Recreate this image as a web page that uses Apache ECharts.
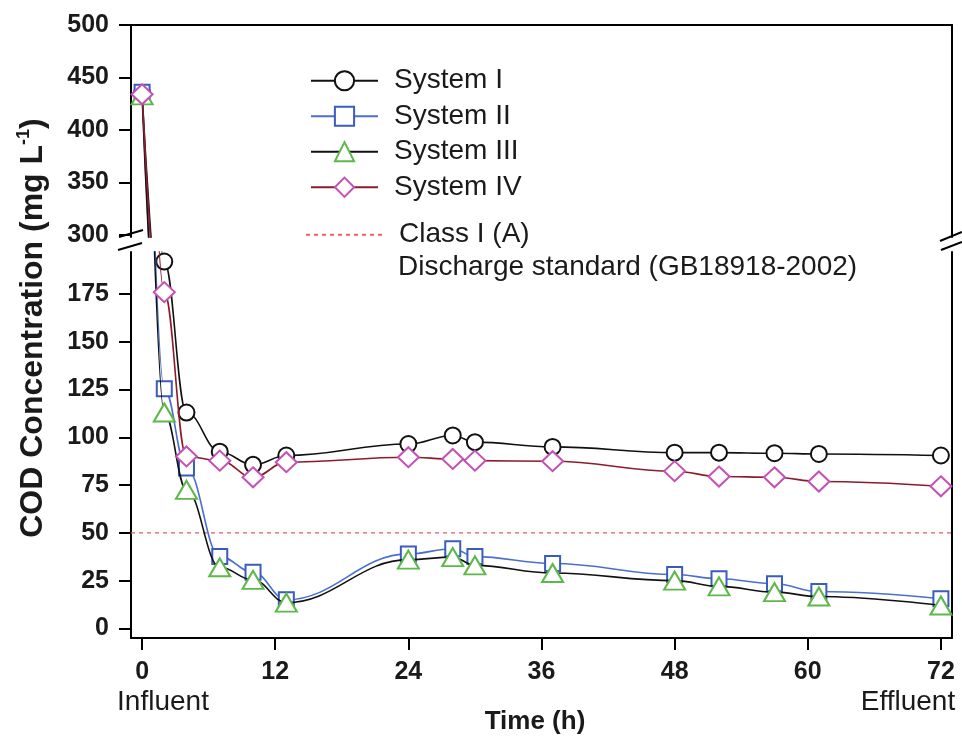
<!DOCTYPE html>
<html><head><meta charset="utf-8">
<script src="https://cdn.jsdelivr.net/npm/echarts@6/dist/echarts.min.js"></script>
<style>html,body{margin:0;padding:0;background:#fff}#c{width:962px;height:736px}</style>
</head><body><div id="c"></div>
<script>
// ---- data ----
const times     = [0, 2, 4, 7, 10, 13, 24, 28, 30, 37, 48, 52, 57, 61, 72];
const systemI   = [435, 192, 113, 92.5, 85.6, 90.5, 96.5, 101, 97.5, 95, 92, 92, 91.7, 91.3, 90.5];
const systemII  = [436, 125.5, 84, 37.6, 29.4, 15, 39, 41.7, 37.6, 34, 28.2, 26, 23.4, 19.3, 15.5];
const systemIII = [433, 113, 72.5, 32, 25.4, 13.5, 36, 37.3, 33, 29, 25, 22, 19, 16.7, 12];
const systemIV  = [434, 176, 90, 87.8, 79.1, 87, 89.6, 88.7, 87.8, 87.5, 82.3, 79.5, 79.1, 76.9, 74.4];
const classIA   = 50;
const xTicks     = [0, 12, 24, 36, 48, 60, 72];
const yTicksLow  = [0, 25, 50, 75, 100, 125, 150, 175];
const yTicksHigh = [300, 350, 400, 450, 500];
const seriesNames = ['System I', 'System II', 'System III', 'System IV'];
const standardName = 'Class I (A)';
const standardName2 = 'Discharge standard (GB18918-2002)';

// ---- styling ----
const FONT = '"Liberation Sans", Arial, sans-serif';
const TXT = '#1a1a1a';
const X_MIN = -1, X_MAX = 73;
const LOW_MIN = -5, LOW_MAX = 197;
const HIGH_MIN = 298, HIGH_MAX = 500;

const styles = [
  {symbol: 'circle',   size: 16,       marker: '#111111', line: '#111111'},
  {symbol: 'rect',     size: 15,       marker: '#3b5bbf', line: '#4a6fd0'},
  {symbol: 'triangle', size: [21, 18], marker: '#5cb848', line: '#111111'},
  {symbol: 'diamond',  size: [21, 20], marker: '#c452b4', line: '#8b1c2c'}
];
const values = [systemI, systemII, systemIII, systemIV];

function mkSeries(idx, part) {
  const s = styles[idx];
  return {
    type: 'line', name: seriesNames[idx],
    xAxisIndex: part, yAxisIndex: part * 2,
    data: times.map((t, i) => [t, values[idx][i]]),
    symbol: s.symbol, symbolSize: s.size, showAllSymbol: true,
    smooth: 0.4, smoothMonotone: 'x', clip: true,
    lineStyle: {color: s.line, width: 1.6},
    itemStyle: {color: '#ffffff', borderColor: s.marker, borderWidth: 2},
    emphasis: {disabled: true}, z: 2 + idx
  };
}

const series = [];
for (let p = 0; p < 2; p++) for (let i = 0; i < 4; i++) series.push(mkSeries(i, p));
series.push({
  type: 'line', name: standardName, xAxisIndex: 1, yAxisIndex: 2,
  data: [[X_MIN, classIA], [X_MAX, classIA]], symbol: 'none',
  lineStyle: {color: '#e4606a', width: 1.3, type: [4, 4]}, z: 1
});

const axisLine = {show: true, onZero: false, lineStyle: {color: '#000', width: 2}};
const tick = (vals) => ({show: true, inside: false, length: 12, customValues: vals, lineStyle: {color: '#000', width: 2}});
const label = (vals) => ({show: true, customValues: vals, margin: 22, fontSize: 25, fontWeight: 'bold', color: TXT, fontFamily: FONT});
const none = {show: false};

const option = {
  animation: false,
  backgroundColor: '#fff',
  grid: [
    {left: 131, right: 10, top: 25, height: 212},
    {left: 131, right: 10, top: 252, height: 386}
  ],
  xAxis: [
    {type: 'value', gridIndex: 0, min: X_MIN, max: X_MAX, position: 'top',
     axisLine: axisLine, axisTick: none, axisLabel: none, splitLine: none},
    {type: 'value', gridIndex: 1, min: X_MIN, max: X_MAX, position: 'bottom',
     axisLine: axisLine, axisTick: tick(xTicks), axisLabel: label(xTicks), splitLine: none}
  ],
  yAxis: [
    {type: 'value', gridIndex: 0, min: HIGH_MIN, max: HIGH_MAX, position: 'left',
     axisLine: axisLine, axisTick: tick(yTicksHigh), axisLabel: label(yTicksHigh), splitLine: none},
    {type: 'value', gridIndex: 0, min: HIGH_MIN, max: HIGH_MAX, position: 'right',
     axisLine: axisLine, axisTick: none, axisLabel: none, splitLine: none},
    {type: 'value', gridIndex: 1, min: LOW_MIN, max: LOW_MAX, position: 'left',
     axisLine: axisLine, axisTick: tick(yTicksLow), axisLabel: label(yTicksLow), splitLine: none},
    {type: 'value', gridIndex: 1, min: LOW_MIN, max: LOW_MAX, position: 'right',
     axisLine: axisLine, axisTick: none, axisLabel: none, splitLine: none}
  ],
  legend: [
    {data: seriesNames, orient: 'vertical', left: 310, top: 63, padding: 0,
     itemWidth: 67, itemHeight: 24, itemGap: 0, selectedMode: false,
     textStyle: {fontSize: 28, lineHeight: 35.5, color: TXT, fontFamily: FONT, padding: [0, 0, 0, 11]}},
    {data: [standardName], orient: 'vertical', left: 305, top: 217, padding: 0,
     itemWidth: 78, itemHeight: 21, itemGap: 0, selectedMode: false,
     itemStyle: {opacity: 0},
     textStyle: {fontSize: 28, lineHeight: 35.5, color: TXT, fontFamily: FONT, padding: [0, 0, 0, 10]}}
  ],
  graphic: [
    {type: 'text', left: 398, top: 253, style: {text: standardName2, fontSize: 28, fontFamily: FONT, fill: TXT}},
    {type: 'text', x: 33, y: 328, rotation: Math.PI / 2,
     style: {text: '{m|COD Concentration (mg L}{s|-1}{m|)}', align: 'center', verticalAlign: 'middle',
       rich: {
         m: {fontSize: 32, fontWeight: 'bold', fontFamily: FONT, fill: TXT, lineHeight: 36},
         s: {fontSize: 18, fontWeight: 'bold', fontFamily: FONT, fill: TXT, lineHeight: 20, verticalAlign: 'top'}
       }}},
    {type: 'text', x: 163, y: 702, style: {text: 'Influent', align: 'center', verticalAlign: 'middle', fontSize: 28, fontFamily: FONT, fill: TXT}},
    {type: 'text', x: 908, y: 702, style: {text: 'Effluent', align: 'center', verticalAlign: 'middle', fontSize: 28, fontFamily: FONT, fill: TXT}},
    {type: 'text', x: 535, y: 722, style: {text: 'Time (h)', align: 'center', verticalAlign: 'middle', fontSize: 26, fontWeight: 'bold', fontFamily: FONT, fill: TXT}},
    // axis-break marks
    {type: 'line', shape: {x1: 119, y1: 237, x2: 143, y2: 230}, style: {stroke: '#000', lineWidth: 2}},
    {type: 'line', shape: {x1: 118, y1: 250, x2: 142, y2: 243}, style: {stroke: '#000', lineWidth: 2}},
    {type: 'line', shape: {x1: 940, y1: 241, x2: 962, y2: 232}, style: {stroke: '#000', lineWidth: 2}},
    {type: 'line', shape: {x1: 941, y1: 250, x2: 962, y2: 242}, style: {stroke: '#000', lineWidth: 2}}
  ],
  series: series
};
const chart = echarts.init(document.getElementById('c'), null, {renderer: 'canvas'});
chart.setOption(option);
</script>
</body></html>
